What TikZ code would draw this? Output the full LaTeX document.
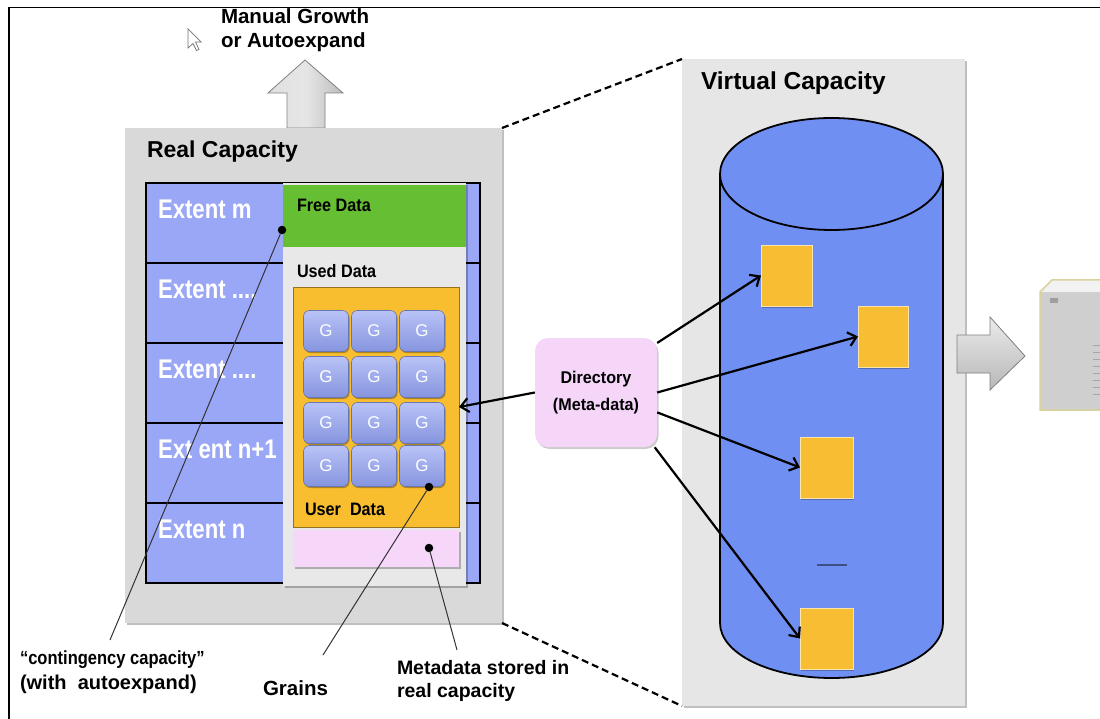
\documentclass[tikz,border=0pt]{standalone}
\usepackage{fontspec}
\setmainfont{Liberation Sans}
\usetikzlibrary{arrows.meta,shadows}

\definecolor{realgrey}{HTML}{D9D9D9}
\definecolor{extblue}{HTML}{9AA7F6}
\definecolor{freegreen}{HTML}{66BF33}
\definecolor{panelgrey}{HTML}{E8E8E8}
\definecolor{userorange}{HTML}{F8BE30}
\definecolor{metapink}{HTML}{F6D7FA}
\definecolor{dirpink}{HTML}{F5D6F9}
\definecolor{cylblue}{HTML}{6F8FF2}
\definecolor{virtgrey}{HTML}{E6E6E6}
\definecolor{blockyellow}{HTML}{F7BD33}
\definecolor{graintop}{HTML}{B9C3F7}
\definecolor{grainbot}{HTML}{8594DE}
\definecolor{devedge}{HTML}{D9D29A}

\newcommand{\fsz}[1]{\fontsize{#1}{#1}\selectfont}
\newcommand{\narrow}[2]{\scalebox{#1}[1]{#2}}
\newcommand{\fourdots}{....}

\tikzset{
  box/.style={rectangle, inner sep=0pt, outer sep=0pt, anchor=north west},
  softshadow/.style={drop shadow={shadow xshift=1.5pt, shadow yshift=-2pt, opacity=0.25, fill=black}},
  label/.style={anchor=west, inner sep=0pt, outer sep=0pt},
  grain/.style={rectangle, rounded corners=6pt, minimum width=45pt, minimum height=41pt,
    top color=graintop, bottom color=grainbot, draw=grainbot!80!black, line width=0.6pt,
    text=white, font=\fsz{17}, inner sep=0pt,
    drop shadow={shadow xshift=1pt, shadow yshift=-1.5pt, opacity=0.3, fill=black}},
  dot/.style={circle, fill=black, inner sep=0pt, minimum size=8.5pt},
  leader/.style={draw=black!80, line width=1pt},
  conn/.style={draw=black, line width=2.2pt, -{Straight Barb[length=8pt,width=14pt]}},
  dashline/.style={draw=black, line width=2.2pt, dash pattern=on 7pt off 4pt},
  yblock/.style={box, fill=blockyellow, draw=white!60!blockyellow, line width=0.8pt,
    drop shadow={shadow xshift=1pt, shadow yshift=-1.5pt, opacity=0.25, fill=black}},
  blockarrow/.style={draw=black!50, line width=0.8pt}
}

\begin{document}
\begin{tikzpicture}[x=1pt,y=-1pt]
\useasboundingbox (0,0) rectangle (1100,719);

% page frame (top and left rules)
\draw[black, line width=1.5pt] (9,719) -- (9,7.5) -- (1100,7.5);

% mouse pointer
\draw[fill=white, draw=black!55, line width=0.7pt]
  (188,29) -- (188,48) -- (193,43.5) -- (196.5,50.5) -- (199,49.5) -- (195.5,42) -- (201,42) -- cycle;

% growth arrow and its caption
\draw[blockarrow, left color=black!12, right color=black!26, middle color=black!10]
  (287,128) -- (287,93) -- (268,93) -- (305,60) -- (343,93) -- (325,93) -- (325,128) -- cycle;
\node[label, font=\bfseries\fsz{20.5}] (mg1) at (221,16) {Manual Growth};
\node[label, font=\bfseries\fsz{20.5}] (mg2) at (221,42) {or Autoexpand};

% ---------------- real capacity ----------------
\node[box, fill=realgrey, minimum width=377pt, minimum height=495pt, softshadow] (real) at (125,128) {};
\node[label, font=\bfseries\fsz{23}] (realtitle) at (147,152) {Real Capacity};

\foreach \i/\t/\lbl in {1/183/Extent m, 2/263/Extent \fourdots, 3/343/Extent \fourdots, 4/423/Ext ent n+1, 5/503/Extent n}{
  \node[box, fill=extblue, draw=black, line width=2.2pt, minimum width=334pt, minimum height=80pt] (ext\i) at (146,\t) {};
  \node[label, text=white, font=\bfseries\fsz{27}] (extlbl\i) at (158,\t+26) {\narrow{0.82}{\lbl}};
}

% free / used data panel
\node[box, fill=panelgrey, minimum width=183pt, minimum height=403pt, softshadow] (panel) at (283,183) {};
\node[box, fill=freegreen, minimum width=183pt, minimum height=62pt] (free) at (283,185) {};
\node[label, font=\bfseries\fsz{18}] (freelbl) at (297,205) {\narrow{0.9}{Free Data}};
\node[label, font=\bfseries\fsz{18}] (usedlbl) at (297,271) {\narrow{0.9}{Used Data}};

\node[box, fill=userorange, draw=userorange!60!black, line width=0.8pt, minimum width=166pt, minimum height=240pt] (user) at (293,287) {};
\foreach \c/\x in {1/326,2/374,3/422}{
  \foreach \r/\y in {1/331,2/377,3/423,4/466}{
    \node[grain] (g\r\c) at (\x,\y) {G};
  }
}
\node[label, font=\bfseries\fsz{18}] (userlbl) at (305,509) {\narrow{0.9}{User\ \ Data}};

\node[box, fill=metapink, minimum width=166pt, minimum height=37pt, softshadow] (meta) at (293,530) {};

% pointer dots and leader lines
\node[dot] (dfree) at (282,230) {};
\node[dot] (dgrain) at (429,487) {};
\node[dot] (dmeta) at (429,548) {};
\coordinate (cend) at (110,640);
\coordinate (gend) at (323,655);
\coordinate (mend) at (457,650);
\draw[leader] (dfree) -- (cend);
\draw[leader] (dgrain) -- (gend);
\draw[leader] (dmeta) -- (mend);

\node[label, font=\bfseries\fsz{19}] (lcont1) at (20,660) {\narrow{0.87}{“contingency capacity”}};
\node[label, font=\bfseries\fsz{20}] (lcont2) at (20,684) {(with\ \ autoexpand)};
\node[label, font=\bfseries\fsz{20.5}] (lgrains) at (263,688) {Grains};
\node[label, font=\bfseries\fsz{19.5}] (lmeta1) at (397,668) {Metadata stored in};
\node[label, font=\bfseries\fsz{19.5}] (lmeta2) at (397,692) {real capacity};

% ---------------- virtual capacity ----------------
\node[box, fill=virtgrey, minimum width=283pt, minimum height=647pt, softshadow] (virt) at (682,59) {};
\node[label, font=\bfseries\fsz{24.5}] (virttitle) at (701,83) {Virtual Capacity};

% volume cylinder
\fill[cylblue] (720,174) -- (720,623) arc[start angle=180, end angle=360, x radius=111.5pt, y radius=55pt] -- (943,174) -- cycle;
\draw[black, line width=1.8pt] (720,174) -- (720,623) arc[start angle=180, end angle=360, x radius=111.5pt, y radius=55pt] -- (943,174);
\draw[black, line width=1.8pt, fill=cylblue] (831.5,174) ellipse [x radius=111.5pt, y radius=56pt];

\node[yblock, minimum width=51pt, minimum height=61pt] (y1) at (761,245) {};
\node[yblock, minimum width=50pt, minimum height=61pt] (y2) at (858,306) {};
\node[yblock, minimum width=53pt, minimum height=61pt] (y3) at (800,437) {};
\node[yblock, minimum width=53pt, minimum height=61pt] (y4) at (800,608) {};
\draw[draw=cylblue!55!black, line width=1.5pt] (817,565) -- (847,565);

% directory
\node[rectangle, rounded corners=13pt, fill=dirpink, minimum width=122pt, minimum height=109pt,
  inner sep=0pt, align=center, font=\bfseries\fontsize{17}{27}\selectfont,
  drop shadow={shadow xshift=1.5pt, shadow yshift=-2pt, opacity=0.2, fill=black}] (dir) at (596,392.5)
  {\narrow{0.95}{Directory}\\\narrow{0.95}{(Meta-data)}};

\draw[conn] (dir.west) -- (user.east);
\draw[conn] (dir.39) -- (y1.west);
\draw[conn] (dir.east) -- (y2.west);
\draw[conn] (dir.-18) -- (y3.west);
\draw[conn] (dir.-43) -- (y4.west);

% real capacity maps into virtual capacity
\draw[dashline] (real.north east) -- (virt.north west);
\draw[dashline] (real.south east) -- (virt.south west);

% export arrow and host device
\draw[blockarrow, top color=black!8, bottom color=black!28]
  (957,335) -- (990,335) -- (990,317) -- (1025,356) -- (990,390) -- (990,373) -- (957,373) -- cycle;
\fill[black!5] (1040,292) -- (1052,280) -- (1100,280) -- (1100,292) -- cycle;
\fill[black!19] (1040,292) rectangle (1100,410);
\draw[devedge, line width=1.5pt] (1100,280) -- (1052,280) -- (1040,292) -- (1040,410) -- (1100,410);
\fill[black!38] (1050,298) rectangle (1058,303);
\foreach \yy in {345,352,...,395}{
  \draw[black!35, line width=0.8pt] (1093,\yy) -- (1100,\yy);
}
\end{tikzpicture}
\end{document}
